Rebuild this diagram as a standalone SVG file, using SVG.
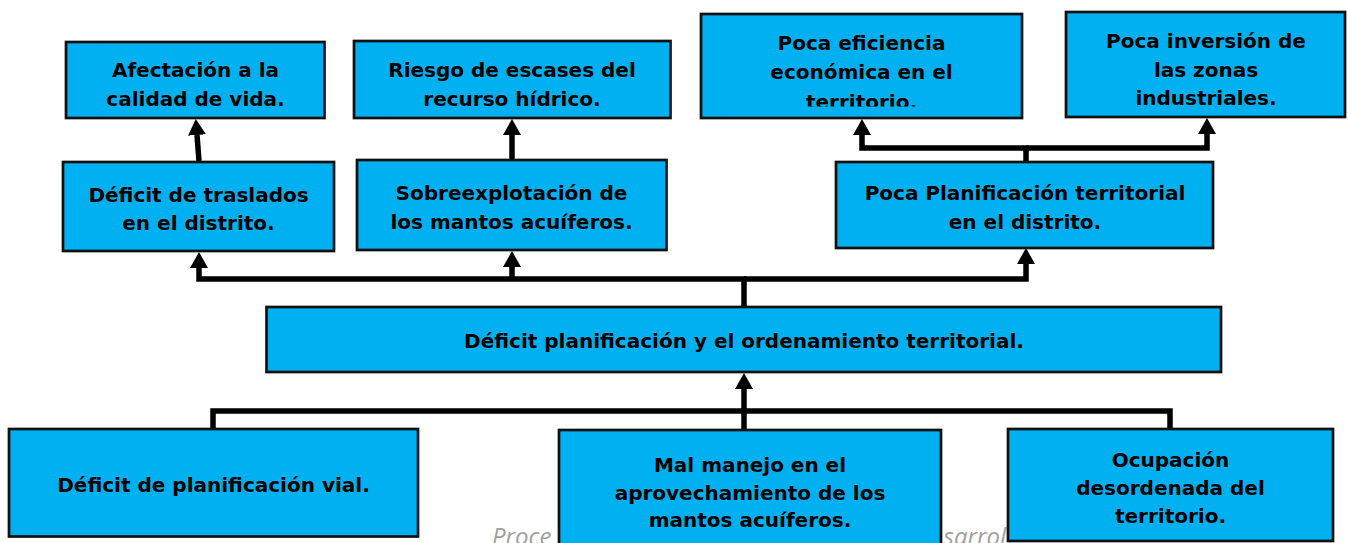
<svg xmlns="http://www.w3.org/2000/svg" width="1348" height="543" viewBox="0 0 1348 543">
  <style>
    .box { fill: #00B0F0; stroke: #111; stroke-width: 2.7; }
    .t { font-family: "DejaVu Sans", "Liberation Sans", sans-serif; font-weight: bold; font-size: 20px; fill: #000; text-anchor: middle; }
    .con { fill: none; stroke: #000; stroke-width: 5.5; stroke-linejoin: miter; }
    .arr { marker-end: url(#ah); }
    .wm { font-family: "Open Sans", "Liberation Sans", sans-serif; font-style: italic; font-size: 24px; fill: #a0a0a0; }
  </style>
  <defs>
    <marker id="ah" markerUnits="userSpaceOnUse" viewBox="0 0 16 18" markerWidth="16" markerHeight="18" refX="0" refY="9" orient="auto">
      <path d="M0 0 L16 9 L0 18 Z" fill="#000"/>
    </marker>
    <clipPath id="clipEf">
      <rect x="701" y="14" width="321" height="92.5"/>
    </clipPath>
  </defs>
  <rect width="1348" height="543" fill="#fff"/>

  <!-- watermark text partially hidden behind nodes -->
  <text class="wm" x="492" y="545">Proce</text>
  <text class="wm" x="1006" y="545" text-anchor="end">sarrol</text>

  <g id="connectors">
    <path class="con arr" d="M199 161 L197 135"/>
    <path class="con arr" d="M512 160 V135"/>
    <path class="con arr" d="M744 307 V279 H199 V268"/>
    <path class="con arr" d="M512 279 V267"/>
    <path class="con arr" d="M744 279 H1026 V264"/>
    <path class="con arr" d="M1026 162 V148 H862 V135"/>
    <path class="con arr" d="M1026 148 H1207 V134"/>
    <path class="con" d="M213 429 V411 H1170 V429"/>
    <path class="con arr" d="M744 430 V389"/>
  </g>

  <g id="n-afectacion">
    <rect class="box" x="66" y="42" width="258.5" height="76"/>
    <text class="t" x="195.5" y="77">Afectación a la</text>
    <text class="t" x="195.5" y="106">calidad de vida.</text>
  </g>
  <g id="n-riesgo">
    <rect class="box" x="354" y="41" width="316.5" height="77"/>
    <text class="t" x="512" y="77">Riesgo de escases del</text>
    <text class="t" x="512" y="106">recurso hídrico.</text>
  </g>
  <g id="n-eficiencia">
    <rect class="box" x="701" y="14" width="321" height="104"/>
    <g clip-path="url(#clipEf)">
      <text class="t" x="861.5" y="50">Poca eficiencia</text>
      <text class="t" x="861.5" y="78.5">económica en el</text>
      <text class="t" x="861.5" y="108.5">territorio.</text>
    </g>
  </g>
  <g id="n-inversion">
    <rect class="box" x="1066" y="12" width="279" height="105"/>
    <text class="t" x="1206" y="48">Poca inversión de</text>
    <text class="t" x="1206" y="76.5">las zonas</text>
    <text class="t" x="1206" y="105">industriales.</text>
  </g>
  <g id="n-traslados">
    <rect class="box" x="63" y="162" width="271" height="89"/>
    <text class="t" x="198.5" y="201.5">Déficit de traslados</text>
    <text class="t" x="198.5" y="230">en el distrito.</text>
  </g>
  <g id="n-sobreexplotacion">
    <rect class="box" x="357" y="160" width="309.5" height="90"/>
    <text class="t" x="511.5" y="199.5">Sobreexplotación de</text>
    <text class="t" x="511.5" y="229">los mantos acuíferos.</text>
  </g>
  <g id="n-planificacion">
    <rect class="box" x="836" y="162" width="377" height="86"/>
    <text class="t" x="1025" y="200">Poca Planificación territorial</text>
    <text class="t" x="1025" y="228.5">en el distrito.</text>
  </g>
  <g id="n-main">
    <rect class="box" x="266.5" y="307" width="954.5" height="65"/>
    <text class="t" x="744" y="348">Déficit planificación y el ordenamiento territorial.</text>
  </g>
  <g id="n-vial">
    <rect class="box" x="9" y="429" width="409" height="107.5"/>
    <text class="t" x="213.5" y="491.5">Déficit de planificación vial.</text>
  </g>
  <g id="n-manejo">
    <rect class="box" x="559" y="430" width="382" height="120"/>
    <text class="t" x="750" y="471.5">Mal manejo en el</text>
    <text class="t" x="750" y="500">aprovechamiento de los</text>
    <text class="t" x="750" y="527">mantos acuíferos.</text>
  </g>
  <g id="n-ocupacion">
    <rect class="box" x="1008" y="429" width="325" height="112"/>
    <text class="t" x="1170.5" y="466.5">Ocupación</text>
    <text class="t" x="1170.5" y="495">desordenada del</text>
    <text class="t" x="1170.5" y="523">territorio.</text>
  </g>
</svg>
